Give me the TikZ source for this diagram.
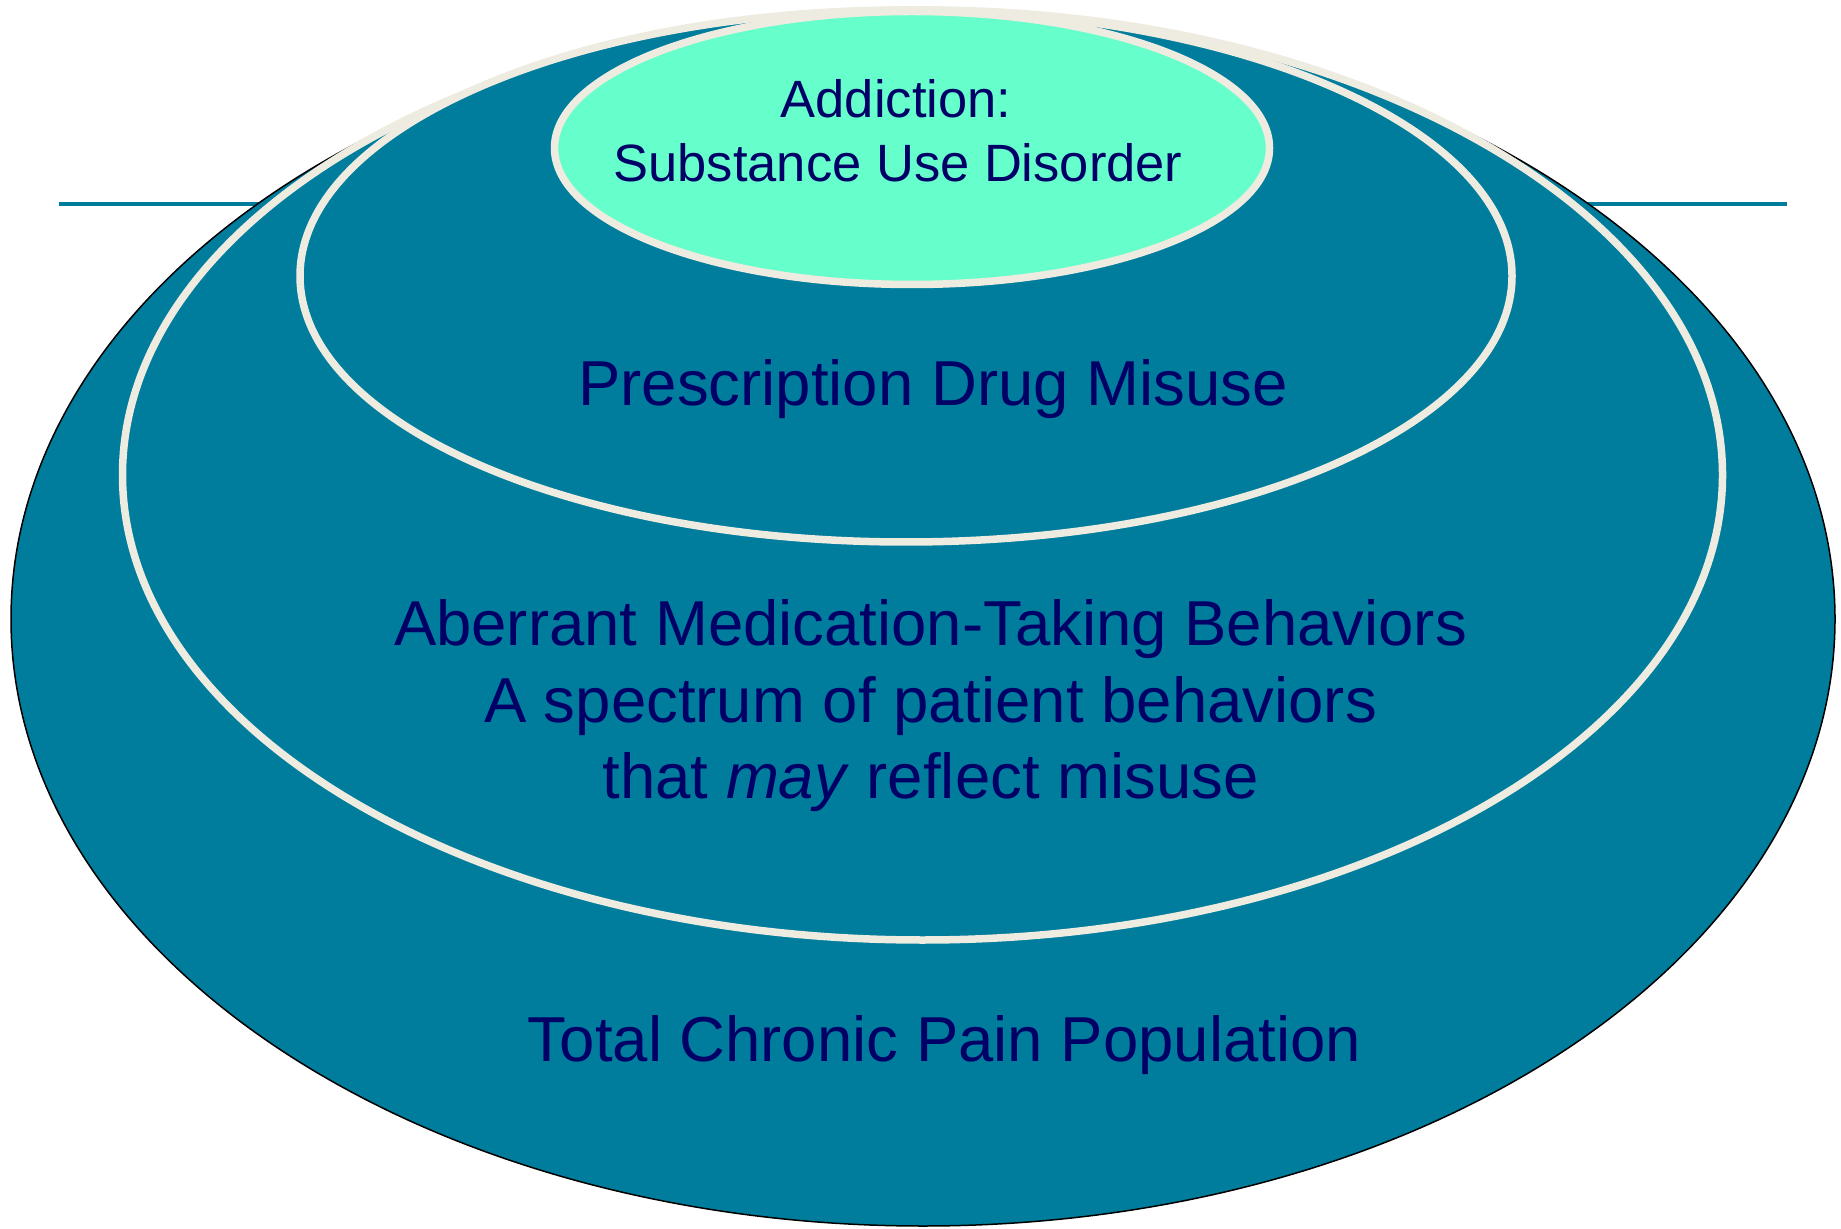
\documentclass[tikz,border=0pt]{standalone}
\usepackage{fontspec}
\setmainfont{Liberation Sans}
\usetikzlibrary{shapes.geometric}

\definecolor{poolteal}{RGB}{0,125,156}
\definecolor{ringcream}{RGB}{238,235,224}
\definecolor{mintgreen}{RGB}{102,255,204}
\definecolor{inknavy}{RGB}{0,0,102}

\tikzset{
  zone/.style={ellipse, inner sep=0pt, outer sep=0pt},
  outerzone/.style={zone, fill=poolteal, draw=black, line width=0.75pt},
  ringzone/.style={zone, fill=poolteal, draw=ringcream, line width=3.75pt},
  corezone/.style={zone, fill=mintgreen, draw=ringcream, line width=3.75pt},
  bigtext/.style={anchor=base, inner sep=0pt, text=inknavy, font=\fontsize{31.75pt}{38pt}\selectfont},
  coretext/.style={anchor=base, inner sep=0pt, text=inknavy, font=\fontsize{26.25pt}{32pt}\selectfont},
  rule/.style={draw=poolteal, line width=2pt}
}

\begin{document}
\begin{tikzpicture}[x=0.5pt, y=-0.5pt]
  % canvas
  \fill[white] (0,0) rectangle (1841,1229);
  \useasboundingbox (0,0) rectangle (1841,1229);

  % horizontal rule behind the population ellipse
  \coordinate (ruleL) at (59,204.5);
  \coordinate (ruleR) at (1787,204.5);
  \draw[rule] (ruleL) -- (ruleR);

  % nested population ellipses
  \node[outerzone, minimum width=912pt, minimum height=607pt] (total) at (923,619) {};
  \node[ringzone, minimum width=800pt, minimum height=465pt] (aberrant) at (922.5,475) {};
  \node[ringzone, minimum width=606pt, minimum height=266pt] (misuse) at (906,276) {};
  \node[corezone, minimum width=357.5pt, minimum height=136.5pt] (addiction) at (912,148) {};

  % labels
  \node[coretext] (addA) at (896,117.5) {Addiction:};
  \node[coretext] (addB) at (898,182) {Substance Use Disorder};

  \node[bigtext] (misuseT) at (933,406) {Prescription Drug Misuse};

  \node[bigtext] (abA) at (930.5,645) {Aberrant Medication-Taking Behaviors};
  \node[bigtext] (abB) at (930.5,722) {A spectrum of patient behaviors};
  \node[bigtext] (abC) at (930.5,798) {that \textit{may} reflect misuse};

  \node[bigtext] (totalT) at (944.5,1061) {Total Chronic Pain Population};
\end{tikzpicture}
\end{document}
